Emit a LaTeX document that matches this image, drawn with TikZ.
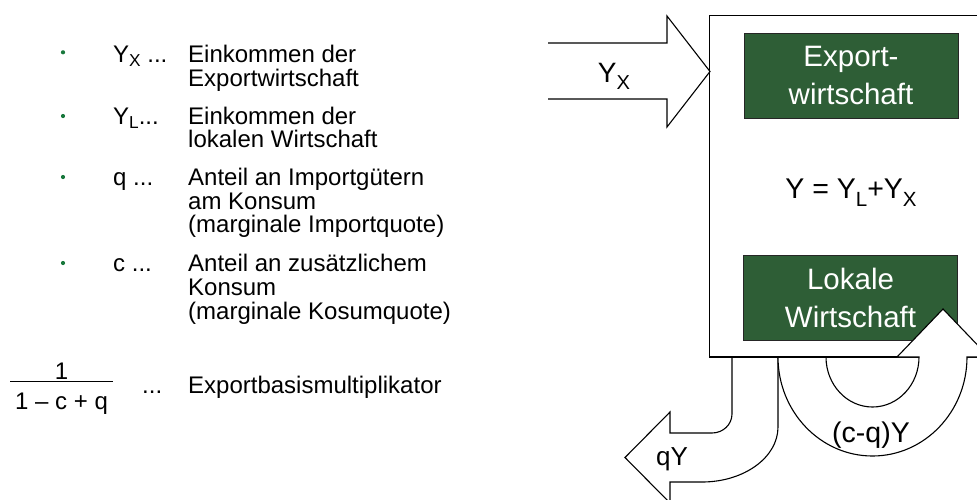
\documentclass[tikz,border=0pt]{standalone}
\usepackage{fontspec}
\setmainfont{Liberation Sans}
\definecolor{boxgreen}{RGB}{46,94,54}
\definecolor{bulgreen}{RGB}{24,120,60}
\newcommand{\lsub}[2][0.22em]{\raisebox{-#1}{\scalebox{0.72}{#2}}}
\begin{document}
\begin{tikzpicture}[x=1pt,y=-1pt,
  outline/.style={draw=black,line width=1.1pt},
  greenbox/.style={fill=boxgreen,draw=black!85,line width=0.9pt,text=white,align=center,
    minimum width=214pt,minimum height=85pt,inner sep=0pt,font=\fontsize{29.5}{38}\selectfont},
  arrowshape/.style={fill=white,draw=black,line width=1.1pt,line join=miter},
  lt/.style={anchor=base west,inner sep=0pt,font=\fontsize{24}{24}\selectfont},
  bigt/.style={anchor=base,inner sep=0pt},
  bullet/.style={circle,fill=bulgreen,inner sep=0pt,minimum size=4.2pt}
]
\useasboundingbox (0,0) rectangle (977,499);
\clip (0,0) rectangle (977,499);

% ---------- left legend ----------
\node[bullet] (b1) at (63,52.3) {};
\node[bullet] (b2) at (63,116) {};
\node[bullet] (b3) at (63,177) {};
\node[bullet] (b4) at (63,263) {};

\node[lt] (l1) at (113,62.3) {Y\lsub[0.18em]{X} ...};
\node[lt] (t1a) at (188,62.3) {Einkommen der};
\node[lt] (t1b) at (188,86.7) {Exportwirtschaft};
\node[lt] (l2) at (113,124) {Y\lsub[0.18em]{L}...};
\node[lt] (t2a) at (188,124) {Einkommen der};
\node[lt] (t2b) at (188,147.7) {lokalen Wirtschaft};
\node[lt] (l3) at (113,185) {q ...};
\node[lt] (t3a) at (188,185) {Anteil an Importgütern};
\node[lt] (t3b) at (188,209) {am Konsum};
\node[lt] (t3c) at (188,232.5) {(marginale Importquote)};
\node[lt] (l4) at (113,271) {c ...};
\node[lt] (t4a) at (188,271) {Anteil an zusätzlichem};
\node[lt] (t4b) at (188,295) {Konsum};
\node[lt] (t4c) at (188,319) {(marginale Kosumquote)};

\node[lt,anchor=base] (num) at (61.5,379) {1};
\draw[line width=1.3pt] (10,381.7) -- (113,381.7);
\node[lt,anchor=base] (den) at (61.5,409.5) {1 – c + q};
\node[lt] (dots) at (142,393) {...};
\node[lt] (mult) at (188,393) {Exportbasismultiplikator};

% ---------- right diagram ----------
\draw[outline,fill=white] (709.5,15.5) rectangle (1010,357);
\node[greenbox] (exp) at (851,75.5) {Export-\\wirtschaft};
\node[greenbox] (lok) at (850.5,297.5) {Lokale\\Wirtschaft};
\node[bigt,font=\fontsize{28.5}{28.5}\selectfont] (eq) at (851,198.3) {Y = Y\lsub[0.27em]{L}+Y\lsub[0.27em]{X}};

% Y_X input arrow
\path[arrowshape] (548,43) -- (667,43) -- (667,16) -- (710,71.5) -- (667,127) -- (667,99) -- (548,99);
\node[bigt,font=\fontsize{28}{28}\selectfont] (yx) at (614,82) {Y\lsub[0.28em]{X}};

% qY bent arrow
\path[arrowshape] (732,357) -- (732,414) .. controls (732,424.5) and (723,433) .. (712,433)
  -- (670,433) -- (670,412) -- (625,457.5) -- (670,503) -- (670,482) -- (702,482)
  .. controls (744,482) and (778,457.4) .. (778,427) -- (778,357);
\node[lt,font=\fontsize{26}{26}\selectfont] (qy) at (656,465) {qY};

% (c-q)Y U-turn arrow
\path[arrowshape] (778,357) .. controls (778,411.6) and (820.3,456) .. (872.5,456)
  .. controls (924.7,456) and (967,411.6) .. (967,357)
  -- (989,357) -- (943,309) -- (897,357) -- (919,357)
  .. controls (919,384.6) and (898.2,407) .. (872.5,407)
  .. controls (846.8,407) and (826,384.6) .. (826,357);
\node[lt,font=\fontsize{28.5}{28.5}\selectfont] (cq) at (832,442) {(c-q)Y};

\draw[outline] (709.5,357) -- (897,357);
\end{tikzpicture}
\end{document}
